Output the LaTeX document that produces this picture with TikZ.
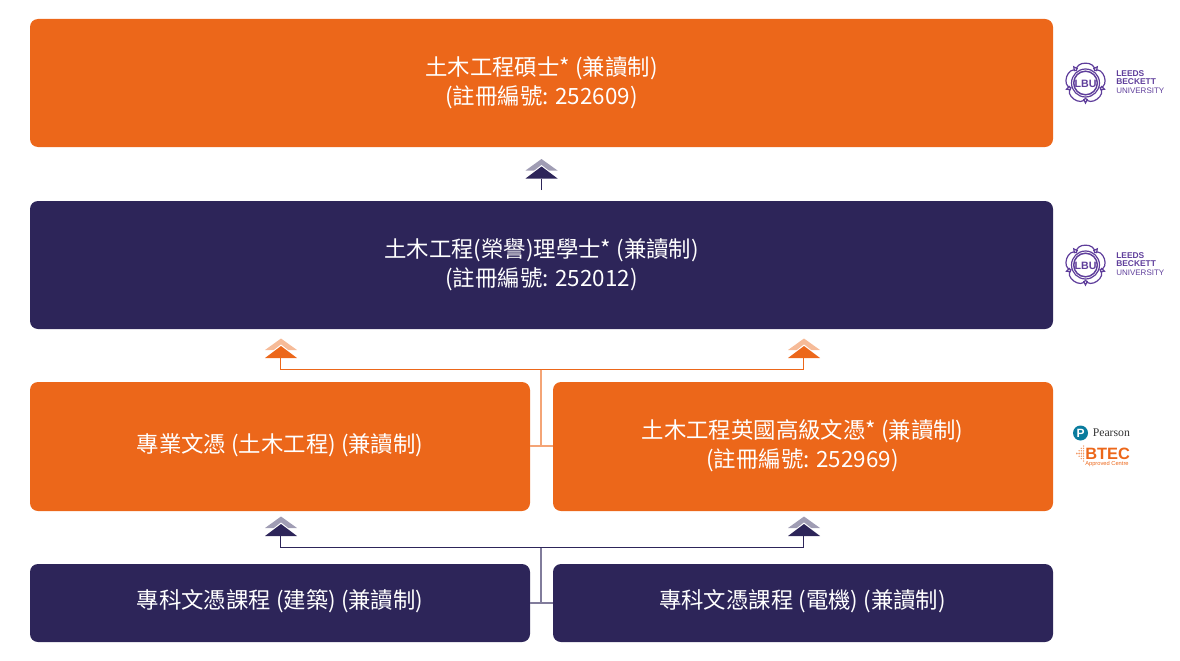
\documentclass[tikz,border=0pt]{standalone}
\usepackage{fontspec}
\setmainfont{Noto Sans CJK TC}
\newfontfamily\logosans{Liberation Sans}
\newfontfamily\logoserif{Liberation Serif}
\usetikzlibrary{calc}
\definecolor{brandorange}{HTML}{EC671A}
\definecolor{brandnavy}{HTML}{2D2559}
\definecolor{lbupurple}{HTML}{5F3E9B}
\definecolor{pearsonteal}{HTML}{0A7C9E}
\tikzset{
  cardtext/.style={text=white,align=center,inner sep=0pt,
    font=\fontsize{16.8pt}{21.7pt}\selectfont},
  card/.style={fill=#1,rounded corners=6pt},
  link/.style={draw=#1,line width=0.75pt},
  softlink/.style={draw=#1!60!white,line width=0.9pt},
  lbuword/.style={text=lbupurple,inner sep=0pt,anchor=west,font=\logosans\bfseries\fontsize{6.3pt}{6pt}\selectfont},
}
\newcommand{\chev}[2]{%
  \fill[#2!45!white] ($(#1)+(0,-30.5)$) -- ($(#1)+(16,-19)$) -- ($(#1)+(-16,-19)$) -- cycle;
  \fill[white] ($(#1)+(0,-24.5)$) -- ($(#1)+(16,-12)$) -- ($(#1)+(-16,-12)$) -- cycle;
  \fill[#2] ($(#1)+(0,-23)$) -- ($(#1)+(16,-11)$) -- ($(#1)+(-16,-11)$) -- cycle;
}
\newcommand{\lburose}[2]{%
  \begin{scope}[shift={(#1,#2)},lbupurple,line width=0.9pt]
    \foreach \a in {0,72,144,216,288}{
      \draw[rotate=\a] (-9,-12) .. controls (-11,-22.5) and (11,-22.5) .. (9,-12);
      \draw[rotate=\a+36] (-2,-16) -- (0,-20) -- (2,-16);
    }
    \fill[white] (0,0) circle[radius=14];
    \draw (0,0) circle[radius=14];
    \draw[line width=1.1pt] (0,0) circle[radius=11.8];
    \node[text=lbupurple,inner sep=0pt,font=\logosans\bfseries\fontsize{8pt}{8pt}\selectfont] at (0,0.5) {LBU};
  \end{scope}%
  \node[lbuword] at (#1+30.5,#2-9.5) {LEEDS};
  \node[lbuword] at (#1+30.5,#2-1) {BECKETT};
  \node[lbuword,font=\logosans\fontsize{6pt}{6pt}\selectfont] at (#1+30.5,#2+7.5) {UNIVERSITY};
}
\begin{document}
\begin{tikzpicture}[x=0.75pt,y=-0.75pt]
\useasboundingbox (0,0) rectangle (1180,660);

\path[card=brandorange] (30,19) rectangle (1053,147);
\path[card=brandnavy] (30,201) rectangle (1053,329);
\path[card=brandorange] (30,382) rectangle (530,511);
\path[card=brandorange] (553,382) rectangle (1053,511);
\path[card=brandnavy] (30,564) rectangle (530,642);
\path[card=brandnavy] (553,564) rectangle (1053,642);

\node[cardtext] (t1) at (541.5,82.5) {土木工程碩士* (兼讀制)\\(註冊編號: 252609)};
\node[cardtext] (t2) at (541.5,264.5) {土木工程(榮譽)理學士* (兼讀制)\\(註冊編號: 252012)};
\node[cardtext] (t3) at (280,445) {專業文憑 (土木工程) (兼讀制)};
\node[cardtext] (t4) at (802.5,445.5) {土木工程英國高級文憑* (兼讀制)\\(註冊編號: 252969)};
\node[cardtext] (t5) at (280,601) {專科文憑課程 (建築) (兼讀制)};
\node[cardtext] (t6) at (802.5,601) {專科文憑課程 (電機) (兼讀制)};

\coordinate (topstem) at (541,190);
\coordinate (topstemend) at (541,179);
\coordinate (oL) at (280.5,369.5);
\coordinate (oR) at (803.5,369.5);
\coordinate (oLt) at (280.5,358);
\coordinate (oRt) at (803.5,358);
\coordinate (oM) at (541,369.5);
\coordinate (oJ) at (541,446);
\coordinate (oA) at (530,446);
\coordinate (oB) at (553,446);
\coordinate (nL) at (280.5,547.5);
\coordinate (nR) at (803.5,547.5);
\coordinate (nLt) at (280.5,536);
\coordinate (nRt) at (803.5,536);
\coordinate (nM) at (541,547.5);
\coordinate (nJ) at (541,603);
\coordinate (nA) at (530,603);
\coordinate (nB) at (553,603);

\draw[link=brandnavy] (topstem) -- (topstemend);
\draw[link=brandorange] (oLt) -- (oL) -- (oR) -- (oRt);
\draw[softlink=brandorange] (oM) -- (oJ);
\draw[softlink=brandorange] (oA) -- (oB);
\draw[link=brandnavy] (nLt) -- (nL) -- (nR) -- (nRt);
\draw[softlink=brandnavy] (nM) -- (nJ);
\draw[softlink=brandnavy] (nA) -- (nB);

\chev{541.5,189.5}{brandnavy}
\chev{281,369}{brandorange}
\chev{804,369}{brandorange}
\chev{281,547}{brandnavy}
\chev{804,547}{brandnavy}

\lburose{1085.5}{83}
\lburose{1085.5}{265}

\fill[pearsonteal] (1080.5,433) circle[radius=7.5];
\node[inner sep=0pt,text=white,font=\logosans\bfseries\fontsize{9pt}{9pt}\selectfont] at (1080.5,433) {P};
\node[anchor=west,inner sep=0pt,text=black!80,font=\logoserif\fontsize{8.8pt}{9pt}\selectfont] at (1092.5,433) {Pearson};
\node[anchor=west,inner sep=0pt,text=brandorange,font=\logosans\bfseries\fontsize{12.3pt}{13pt}\selectfont] at (1085,453.5) {BTEC};
\node[anchor=west,inner sep=0pt,text=brandorange,font=\logosans\fontsize{4.3pt}{5pt}\selectfont] at (1085,464.5) {Approved Centre};
\foreach \i in {0,...,3}{\foreach \j in {0,...,\i}{
  \fill[brandorange!70!white] (1083.5-\j*2.2,446+\i*2.4) circle[radius=0.75];
  \fill[brandorange!70!white] (1083.5-\j*2.2,461-\i*2.4) circle[radius=0.75];
}}
\end{tikzpicture}
\end{document}
